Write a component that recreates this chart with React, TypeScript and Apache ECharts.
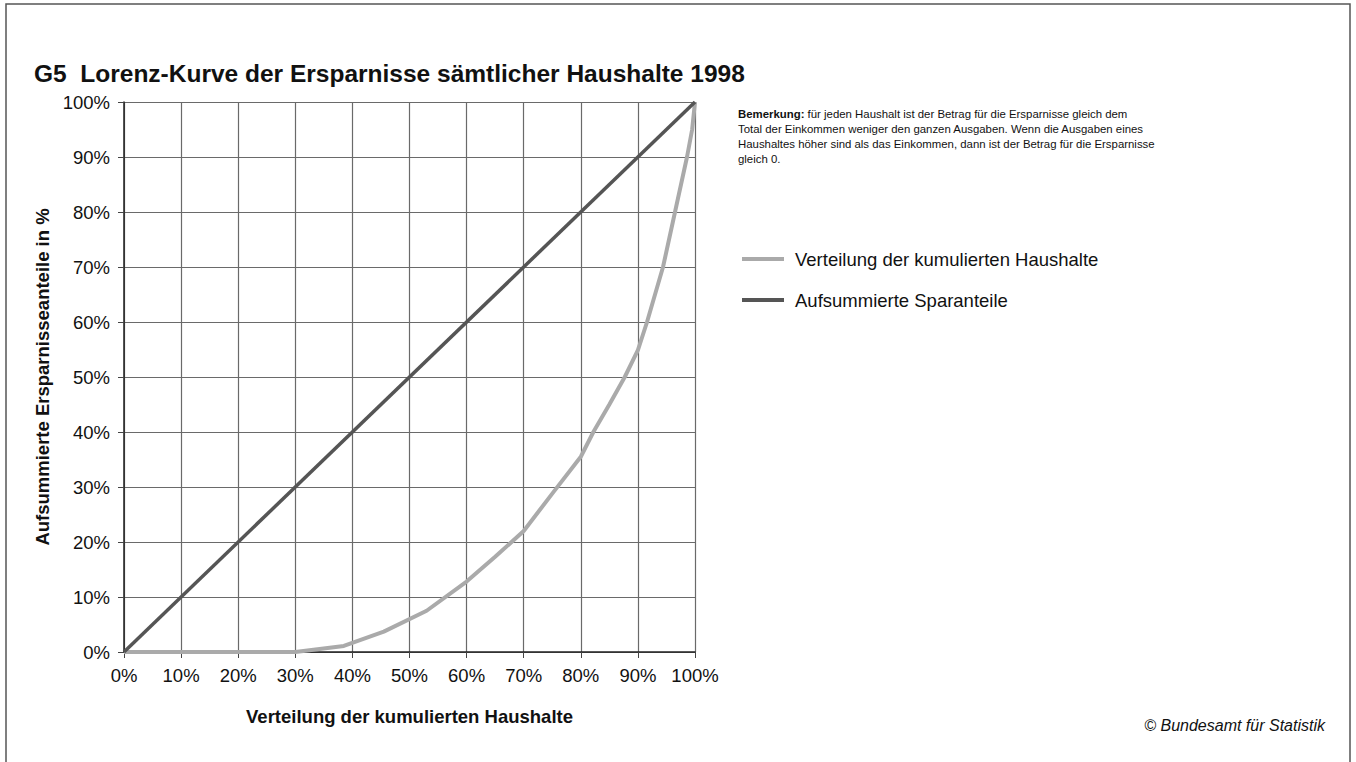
import React, { useEffect, useRef } from "react";
import * as echarts from "echarts";

const titleText = "G5  Lorenz-Kurve der Ersparnisse sämtlicher Haushalte 1998";
const xAxisName = "Verteilung der kumulierten Haushalte";
const yAxisName = "Aufsummierte Ersparnisseanteile in %";
const seriesLorenzName = "Verteilung der kumulierten Haushalte";
const seriesEqualName = "Aufsummierte Sparanteile";
const noteLines = [
  "für jeden Haushalt ist der Betrag für die Ersparnisse gleich dem",
  "Total der Einkommen weniger den ganzen Ausgaben. Wenn die Ausgaben eines",
  "Haushaltes höher sind als das Einkommen, dann ist der Betrag für die Ersparnisse",
  "gleich 0.",
];
const sourceText = "© Bundesamt für Statistik";

// Lorenz curve points (x = cumulative households %, y = cumulative savings %)
const lorenzX = [0, 10, 20, 30, 38.5, 45.5, 53, 60, 65, 70, 75, 80, 82.2, 85, 87.7, 90, 91.6, 94.4, 96.5, 98.6, 99.5, 100];
const lorenzY = [0, 0, 0, 0, 1.1, 3.7, 7.5, 12.8, 17.3, 22, 28.8, 35.5, 40, 45, 50, 54.9, 60, 70, 80, 90, 95, 100];
// Equality line
const equalX = [0, 100];
const equalY = [0, 100];

const FONT = "'Liberation Sans', Arial, Helvetica, sans-serif";

export default function App() {
  const ref = useRef<HTMLDivElement>(null);
  useEffect(() => {
    if (!ref.current) return;
    const chart = echarts.init(ref.current, null, { renderer: "svg" });
    const lorenzData = lorenzX.map((x, i) => [x, lorenzY[i]]);
    const equalData = equalX.map((x, i) => [x, equalY[i]]);
    const axisCommon = {
      type: "value",
      min: 0,
      max: 100,
      interval: 10,
      axisLine: { show: true, lineStyle: { color: "#222", width: 1.5 } },
      axisTick: { show: true, length: 6, lineStyle: { color: "#444", width: 1 } },
      splitLine: { show: true, lineStyle: { color: "#6a6a6a", width: 1.2 } },
      axisLabel: {
        formatter: "{value}%",
        color: "#111",
        fontSize: 18.5,
        fontFamily: FONT,
      },
      nameTextStyle: { color: "#111", fontSize: 18.5, fontWeight: "bold", fontFamily: FONT },
    };
    chart.setOption({
      animation: false,
      backgroundColor: "#fff",
      textStyle: { fontFamily: FONT },
      title: {
        text: titleText,
        left: 29,
        top: 56,
        textStyle: { fontSize: 24.5, fontWeight: "bold", color: "#111", fontFamily: FONT },
      },
      grid: { left: 124, right: 661, top: 102, bottom: 110, containLabel: false },
      xAxis: {
        ...axisCommon,
        name: xAxisName,
        nameLocation: "middle",
        nameGap: 55,
        axisLabel: { ...axisCommon.axisLabel, margin: 14 },
      },
      yAxis: {
        ...axisCommon,
        name: yAxisName,
        nameLocation: "middle",
        nameRotate: 90,
        nameGap: 72,
        axisLabel: { ...axisCommon.axisLabel, margin: 14 },
      },
      legend: {
        orient: "vertical",
        left: 737,
        top: 243,
        itemWidth: 42,
        itemHeight: 4,
        itemGap: 19,
        icon: "rect",
        data: [seriesLorenzName, seriesEqualName],
        textStyle: { fontSize: 18.5, color: "#111", fontFamily: FONT, lineHeight: 22, padding: [0, 0, 0, 6] },
      },
      graphic: [
        {
          type: "rect",
          shape: { x: 6, y: 4, width: 1344, height: 800 },
          style: { fill: "none", stroke: "#555", lineWidth: 1.5 },
          silent: true,
        },
        {
          type: "text",
          left: 738,
          top: 106,
          style: {
            text: "{b|Bemerkung:} " + noteLines.join("\n"),
            rich: {
              b: { fontWeight: "bold", fontSize: 11.4, fontFamily: FONT, fill: "#111", lineHeight: 15 },
            },
            fontSize: 11.4,
            lineHeight: 15,
            fontFamily: FONT,
            fill: "#111",
          },
        },
        {
          type: "text",
          right: 31,
          top: 717,
          style: {
            text: sourceText,
            fontSize: 16,
            fontStyle: "italic",
            fontFamily: FONT,
            fill: "#111",
          },
        },
      ],
      series: [
        {
          name: seriesLorenzName,
          type: "line",
          data: lorenzData,
          symbol: "none",
          lineStyle: { color: "#aaaaaa", width: 4 },
          itemStyle: { color: "#aaaaaa" },
          z: 3,
        },
        {
          name: seriesEqualName,
          type: "line",
          data: equalData,
          symbol: "none",
          lineStyle: { color: "#555555", width: 3.5 },
          itemStyle: { color: "#555555" },
          z: 4,
        },
      ],
    });
    return () => chart.dispose();
  }, []);
  return (
    <div
      ref={ref}
      style={{ position: "fixed", left: 0, top: 0, width: 1356, height: 762, background: "#fff" }}
    />
  );
}
